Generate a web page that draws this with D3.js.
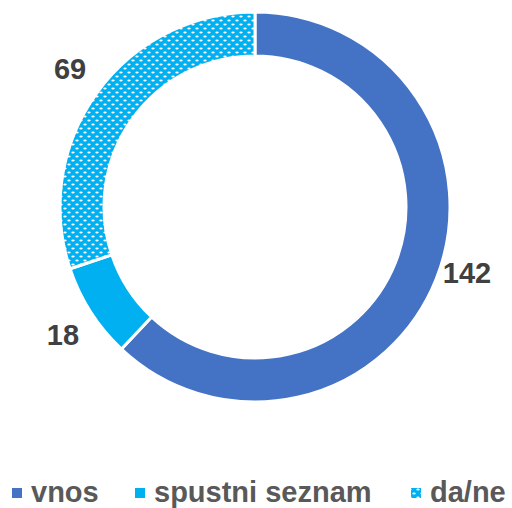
<!doctype html>
<html>
  <head>
    <meta charset="utf-8">
    <title>Donut</title>
    <script src="https://cdn.jsdelivr.net/npm/d3@7"></script>
    <style>
      body { margin: 0; background: #fff; }
    </style>
  </head>
  <body>
    <script>
      const categories = ['vnos', 'spustni seznam', 'da/ne'];
      const values = [142, 18, 69];

      const width = 512;
      const height = 508;
      const cx = 255, cy = 207;
      const outerR = 195, innerR = 151, labelR = 228;

      const svg = d3.select('body').append('svg')
          .attr('width', width)
          .attr('height', height);

      // dotted pattern for da/ne
      const defs = svg.append('defs');
      const pat = defs.append('pattern')
          .attr('id', 'dots')
          .attr('patternUnits', 'userSpaceOnUse')
          .attr('width', 8)
          .attr('height', 8);
      pat.append('rect').attr('width', 8).attr('height', 8).attr('fill', '#00b0f0');
      pat.append('ellipse').attr('cx', 2).attr('cy', 1.5).attr('rx', 1.7).attr('ry', 0.9).attr('fill', '#fff');
      pat.append('ellipse').attr('cx', 6).attr('cy', 5.5).attr('rx', 1.7).attr('ry', 0.9).attr('fill', '#fff');

      const fills = ['#4472c4', '#00b0f0', 'url(#dots)'];

      const pie = d3.pie().sort(null).value(d => d);
      const arcs = pie(values);
      const arc = d3.arc().innerRadius(innerR).outerRadius(outerR);
      const labelArc = d3.arc().innerRadius(labelR).outerRadius(labelR);

      const g = svg.append('g').attr('transform', `translate(${cx},${cy})`);
      g.selectAll('path')
        .data(arcs)
        .enter().append('path')
          .attr('d', arc)
          .attr('fill', (d, i) => fills[i])
          .attr('stroke', '#fff')
          .attr('stroke-width', 3);

      // data labels, with small vertical nudges like the original
      const nudge = [-18, 5, -5];
      g.selectAll('text.lbl')
        .data(arcs)
        .enter().append('text')
          .attr('class', 'lbl')
          .attr('x', d => labelArc.centroid(d)[0])
          .attr('y', (d, i) => labelArc.centroid(d)[1] + nudge[i])
          .attr('text-anchor', 'middle')
          .attr('dominant-baseline', 'central')
          .attr('font-family', 'Liberation Sans, Arial, sans-serif')
          .attr('font-weight', 'bold')
          .attr('font-size', 29)
          .attr('fill', '#404040')
          .text(d => d.data);

      // legend
      const legendX = [12, 135, 411];
      const leg = svg.append('g');
      categories.forEach((c, i) => {
        leg.append('rect')
            .attr('x', legendX[i])
            .attr('y', 488)
            .attr('width', 10)
            .attr('height', 10)
            .attr('fill', fills[i]);
        leg.append('text')
            .attr('x', legendX[i] + 19)
            .attr('y', 502)
            .attr('font-family', 'Liberation Sans, Arial, sans-serif')
            .attr('font-weight', 'bold')
            .attr('font-size', 29)
            .attr('fill', '#595959')
            .text(c);
      });
    </script>
  </body>
</html>
